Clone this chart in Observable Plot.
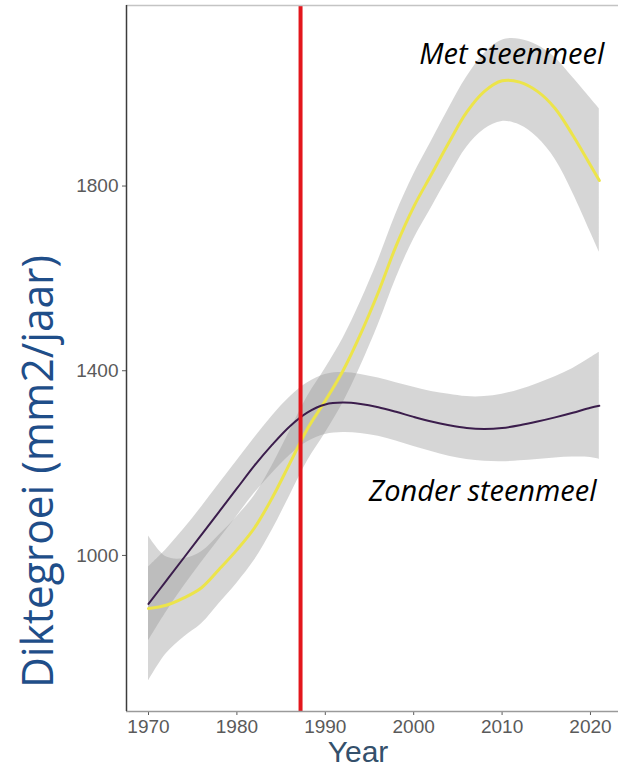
<!DOCTYPE html>
<html>
<head>
<meta charset="utf-8">
<script src="https://cdn.jsdelivr.net/npm/d3@7"></script>
<script src="https://cdn.jsdelivr.net/npm/@observablehq/plot@0.6"></script>
<style>
  html, body { margin: 0; padding: 0; background: #fff; }
  #chart svg { display: block; }
</style>
</head>
<body>
<div id="chart"></div>
<script>
// Smoothed yearly thickness growth, with and without rock dust (steenmeel)
const years = [1970, 1972, 1974, 1976, 1978, 1980, 1982, 1984, 1986, 1988, 1990, 1992, 1994,
               1996, 1998, 2000, 2002, 2004, 2006, 2008, 2010, 2012, 2014, 2016, 2018, 2020, 2021];

// Zonder steenmeel: fitted value and half-width of the confidence band
const zonder     = [895, 945, 995, 1045, 1095, 1145, 1195, 1240, 1280, 1310, 1327, 1331, 1328,
                    1321, 1311, 1300, 1290, 1282, 1276, 1274, 1276, 1282, 1290, 1299, 1309, 1320, 1324];
const zonderHalf = [80, 68, 62, 60, 60, 60, 60, 62, 63, 64, 65, 65, 64,
                    63, 63, 64, 65, 67, 68, 70, 73, 77, 82, 88, 96, 108, 116];

// Met steenmeel: fitted value and half-width of the confidence band
const met     = [885, 892, 908, 930, 970, 1012, 1060, 1125, 1200, 1275, 1335, 1400, 1480,
                 1570, 1670, 1755, 1825, 1895, 1960, 2005, 2028, 2025, 2005, 1968, 1910, 1845, 1812];
const metHalf = [157, 105, 85, 78, 74, 72, 70, 70, 70, 70, 70, 70, 70,
                 70, 70, 70, 72, 74, 76, 82, 88, 93, 100, 110, 125, 145, 155];

// Year the treatment started
const markerYear = [1987.2];

const xTicks = [1970, 1980, 1990, 2000, 2010, 2020];
const yTicks = [1000, 1400, 1800];

const seriesLabels = ["Met steenmeel", "Zonder steenmeel"];
const labelYears = [2011.1, 2007.8];
const labelValues = [2085, 1138];

const rowsZ = years.map((year, i) => ({year, value: zonder[i], lo: zonder[i] - zonderHalf[i], hi: zonder[i] + zonderHalf[i]}));
const rowsM = years.map((year, i) => ({year, value: met[i], lo: met[i] - metHalf[i], hi: met[i] + metHalf[i]}));
const labels = seriesLabels.map((text, i) => ({text, year: labelYears[i], value: labelValues[i]}));

const xDomain = [1967.51, 2023.17];
const yDomain = [662, 2191];

const W = 618, H = 771;

const svg = Plot.plot({
  width: W,
  height: H,
  marginLeft: 126,
  marginRight: 0,
  marginTop: 5,
  marginBottom: 60,
  style: {
    fontFamily: "'Liberation Sans', Arial, sans-serif",
    fontSize: "19px",
    color: "#5a5a5a",
    background: "#fff"
  },
  x: {domain: xDomain, ticks: xTicks, tickFormat: d => String(d), tickSize: 4, tickPadding: 4, label: null},
  y: {domain: yDomain, ticks: yTicks, tickFormat: d => String(d), tickSize: 4, tickPadding: 4, label: null},
  marks: [
    Plot.areaY(rowsM, {x: "year", y1: "lo", y2: "hi", fill: "#999", fillOpacity: 0.4, curve: "catmull-rom"}),
    Plot.areaY(rowsZ, {x: "year", y1: "lo", y2: "hi", fill: "#999", fillOpacity: 0.4, curve: "catmull-rom"}),
    Plot.line(rowsM, {x: "year", y: "value", stroke: "#ece44a", strokeWidth: 3, curve: "catmull-rom"}),
    Plot.line(rowsZ, {x: "year", y: "value", stroke: "#3b1d4c", strokeWidth: 2, curve: "catmull-rom"}),
    Plot.ruleX(markerYear, {stroke: "#e3161c", strokeWidth: 4}),
    Plot.ruleY([yDomain[1]], {stroke: "#c4c4c4", strokeWidth: 1.5}),
    Plot.ruleY([yDomain[0]], {stroke: "#9a9a9a", strokeWidth: 1.5}),
    Plot.ruleX([xDomain[0]], {stroke: "#3c3c3c", strokeWidth: 1.5}),
    Plot.text(labels, {
      x: "year", y: "value", text: "text",
      fontFamily: "'Open Sans', 'Noto Sans', sans-serif",
      fontStyle: "italic", fontSize: 29, fill: "#000", textAnchor: "middle"
    })
  ]
});

const root = d3.select(svg);

// Axis titles
root.append("text")
  .attr("transform", "translate(53, 471.5) rotate(-90)")
  .attr("text-anchor", "middle")
  .attr("font-family", "'Open Sans', 'Noto Sans', sans-serif")
  .attr("font-size", 44)
  .attr("textLength", 433)
  .attr("lengthAdjust", "spacingAndGlyphs")
  .attr("fill", "#1f4e89")
  .text("Diktegroei (mm2/jaar)");

root.append("text")
  .attr("x", 358)
  .attr("y", 762)
  .attr("text-anchor", "middle")
  .attr("font-family", "'Liberation Sans', Arial, sans-serif")
  .attr("font-size", 30)
  .attr("fill", "#34506b")
  .text("Year");

document.getElementById("chart").appendChild(svg);
</script>
</body>
</html>
